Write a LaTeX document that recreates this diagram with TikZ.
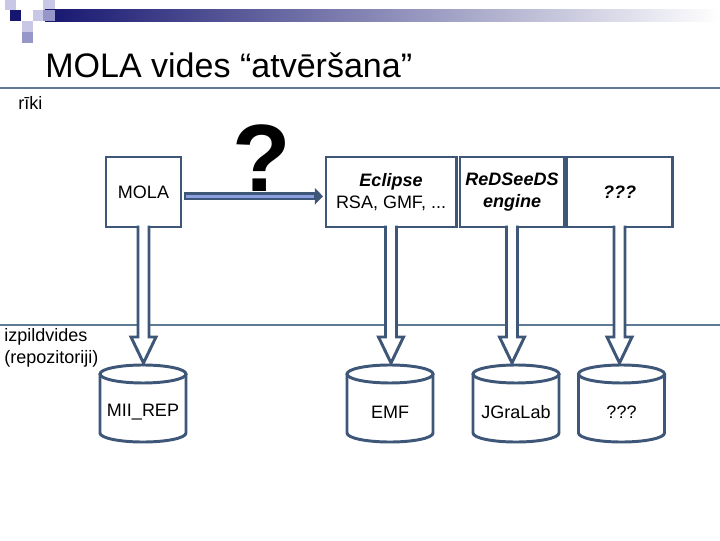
\documentclass[tikz,border=0pt]{standalone}
\usepackage{fontspec}
\setmainfont{Liberation Sans}
\usetikzlibrary{arrows.meta,calc}
\definecolor{molaLine}{RGB}{62,86,120}
\definecolor{molaRule}{RGB}{95,122,148}
\definecolor{molaArrow}{RGB}{140,160,225}
\definecolor{molaNavy}{RGB}{22,22,112}
\definecolor{molaLight}{RGB}{200,200,230}
\definecolor{molaMid}{RGB}{150,150,200}

\begin{document}
\begin{tikzpicture}[x=0.025cm, y=0.025cm,
    tool/.style={rectangle, draw=molaLine, line width=2.1pt, outer sep=0pt,
                 minimum height=1.75cm, inner sep=1pt, align=center,
                 font=\fontsize{12.8}{15.6}\selectfont},
    repo/.style={rectangle, outer sep=0pt, minimum width=2.15cm,
                 minimum height=1.475cm, inner sep=0pt,
                 font=\fontsize{12.8}{15.6}\selectfont},
    repoline/.style={draw=molaLine, line width=2.1pt},
    side/.style={align=left, inner sep=0pt, font=\fontsize{12.8}{15.6}\selectfont},
    bigarr/.style={-{Triangle[length=5.7pt, width=11.4pt]}, molaLine, line width=5.7pt},
    bigarrin/.style={molaArrow, line width=2.1pt},
    blockarr/.style={draw=molaLine, fill=white, line width=2.1pt, line join=miter}
  ]
  \useasboundingbox (0,0) rectangle (720,540);

  \fill[molaLight] (5,540) rectangle (16,530);
  \fill[molaLight] (43,540) rectangle (55,530);
  \shade[left color=molaNavy, right color=white] (45,530) rectangle (720,518);
  \fill[molaNavy] (10,530) rectangle (21,519);
  \fill[molaLight] (33,530) rectangle (43,519);
  \fill[molaMid] (43,530) rectangle (55,519);
  \fill[molaLight] (22,519) rectangle (33,508);
  \fill[molaMid] (22,508) rectangle (33,497);

  \node[anchor=base west, inner sep=0pt, font=\fontsize{24.2}{28}\selectfont]
    (title) at (45,462) {MOLA vides “atvēršana”};

  \draw[molaRule, line width=1pt] (0,452) -- (720,452);
  \draw[molaRule, line width=1pt] (0,215) -- (720,215);

  \node[side, anchor=west] (riki) at (18,437) {rīki};
  \node[side, anchor=north west] (izp) at (4,212) {izpildvides\\(repozitoriji)};

  \node[tool, minimum width=1.875cm] (mola) at (143.5,348) {MOLA};
  \node[tool, minimum width=3.25cm] (ecl) at (391,348)
    {\textbf{\textit{Eclipse}}\\RSA, GMF, ...};
  \node[tool, minimum width=2.6cm, font=\fontsize{12.8}{15.6}\selectfont\bfseries\itshape]
    (rds) at (512,348) {ReDSeeDS\\engine};
  \node[tool, minimum width=2.625cm, font=\fontsize{12.8}{15.6}\selectfont\bfseries\itshape]
    (unk) at (619.5,348) {???};

  \node[inner sep=0pt, font=\fontsize{68}{70}\selectfont\bfseries] (qm) at (262,382) {?};

  \draw[bigarr] ($(mola.east)+(3,-4.3)$) -- ($(ecl.west)+(-3,-4.3)$);
  \draw[bigarrin] ($(mola.east)+(4.5,-4.3)$) -- ($(ecl.west)+(-12,-4.3)$);

  \node[repo] (mii) at (143,127.5) {MII\_REP};
  \node[repo] (emf) at (390,127.5) {EMF};
  \node[repo] (jgl) at (516,127.5) {JGraLab};
  \node[repo] (unq) at (621.5,127.5) {???};

  \foreach \c in {mii,emf,jgl,unq}{
    \draw[repoline] ($(\c.north)+(0,9)$) ellipse [x radius=43, y radius=9];
    \draw[repoline] ($(\c.north west)+(0,9)$) -- ($(\c.south west)+(0,9)$)
      arc[start angle=180, end angle=360, x radius=43, y radius=9]
      -- ($(\c.north east)+(0,9)$);
  }

  \foreach \b/\c in {mola/mii, ecl/emf, rds/jgl, unk/unq}{
    \coordinate (tip) at ($(\b.south |- \c.north)+(0,20)$);
    \filldraw[blockarr] ($(\b.south)+(-5.5,1.5)$) -- ($(tip)+(-5.5,26)$)
      -- ($(tip)+(-12.5,26)$) -- (tip) -- ($(tip)+(12.5,26)$)
      -- ($(tip)+(5.5,26)$) -- ($(\b.south)+(5.5,1.5)$);
  }
\end{tikzpicture}
\end{document}
